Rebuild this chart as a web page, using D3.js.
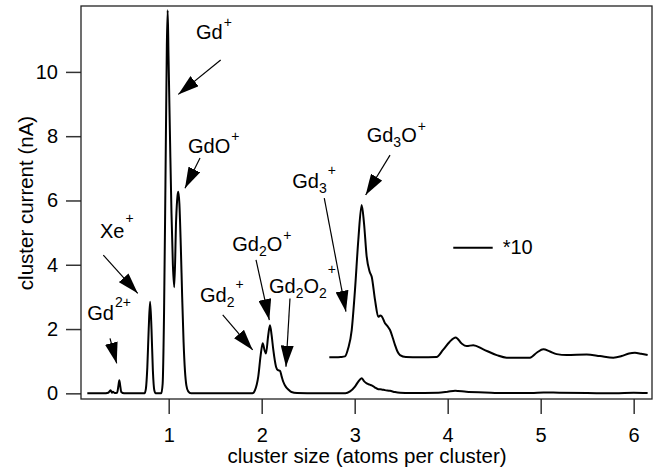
<!DOCTYPE html>
<meta charset="utf-8">
<style>
body {
  margin: 0;
  background: #fff;
}
svg {
  font-family: "Liberation Sans", Arial, Helvetica, sans-serif;
}
.trace {
  fill: none;
  stroke: #000;
  stroke-width: 2;
  stroke-linejoin: round;
}
.axis text {
  font-size: 20px;
  fill: #000;
}
.axis line {
  stroke: #333;
  stroke-width: 1.5;
}
.axis path {
  display: none;
}
.note {
  font-size: 20px;
}
.pointer {
  stroke: #000;
  stroke-width: 1.2;
}
</style>
<body>
<svg width="658" height="471"></svg>
<script src="https://d3js.org/d3.v7.min.js"></script>
<script>
// measured trace (cluster size vs current, nA)
var sizeMain = [0.125, 0.30, 0.35, 0.375, 0.39, 0.40, 0.42, 0.445, 0.46, 0.469, 0.478, 0.49, 0.52,
  0.74, 0.755, 0.77, 0.785, 0.80, 0.815, 0.83, 0.845, 0.86,
  0.92, 0.935, 0.95, 0.965, 0.98, 0.989, 0.998, 1.015, 1.03, 1.045, 1.06, 1.08, 1.095, 1.103, 1.115, 1.13, 1.145, 1.16, 1.175, 1.19, 1.21, 1.24,
  1.90, 1.928, 1.963, 1.989, 2.011, 2.03, 2.046, 2.07, 2.089, 2.107, 2.125, 2.154, 2.175, 2.197, 2.215, 2.232, 2.26, 2.286, 2.32, 2.38,
  2.6, 2.9, 2.95, 3.003, 3.039, 3.075, 3.10, 3.129, 3.161, 3.183, 3.219, 3.254, 3.29, 3.326, 3.38, 3.434, 3.487, 3.6,
  3.9, 4.0, 4.08, 4.2, 4.4, 4.6, 4.9, 5.03, 5.2, 5.5, 5.8, 6.0, 6.15];
var currentMain = [0, 0, 0.02, 0.10, 0.02, 0.05, 0.01, 0.02, 0.25, 0.41, 0.25, 0.04, 0,
  0, 0.15, 0.8, 2.0, 2.85, 2.0, 0.7, 0.1, 0,
  0, 0.3, 2.5, 6.5, 10.8, 11.92, 10.5, 7.8, 5.6, 4.0, 3.3, 5.4, 6.15, 6.27, 5.9, 4.6, 3.0, 1.6, 0.7, 0.25, 0.06, 0,
  0, 0.10, 0.52, 1.19, 1.56, 1.35, 1.24, 1.8, 2.12, 1.8, 1.35, 0.83, 0.72, 0.70, 0.52, 0.36, 0.2, 0.12, 0.04, 0.01,
  0, 0, 0.06, 0.21, 0.365, 0.47, 0.38, 0.31, 0.27, 0.25, 0.18, 0.13, 0.12, 0.10, 0.08, 0.04, 0.02, 0.01,
  0.02, 0.05, 0.08, 0.05, 0.03, 0.01, 0.01, 0.03, 0.02, 0.01, 0, 0.02, 0.01];

// same trace magnified x10 and shifted up
var sizeTimes10 = [2.727, 2.80, 2.85, 2.896, 2.93, 2.968, 3.003, 3.039, 3.075, 3.10, 3.129, 3.161, 3.183, 3.219, 3.254, 3.275, 3.29, 3.326, 3.35, 3.38, 3.41, 3.434, 3.46, 3.487, 3.55, 3.70,
  3.88, 3.95, 4.02, 4.086, 4.15, 4.204, 4.275, 4.383, 4.527, 4.634, 4.885, 4.96, 5.028, 5.10, 5.172, 5.28, 5.495, 5.638, 5.781, 5.871, 5.95, 6.014, 6.08, 6.15];
var currentTimes10 = [1.12, 1.12, 1.13, 1.15, 1.4, 1.97, 3.21, 4.77, 5.86, 5.3, 4.25, 3.78, 3.63, 2.90, 2.38, 2.42, 2.40, 2.18, 2.10, 1.97, 1.72, 1.50, 1.30, 1.19, 1.13, 1.12,
  1.13, 1.35, 1.60, 1.74, 1.55, 1.47, 1.50, 1.37, 1.19, 1.11, 1.11, 1.27, 1.37, 1.30, 1.22, 1.19, 1.21, 1.16, 1.11, 1.16, 1.24, 1.26, 1.23, 1.19];

var xTicks = [1, 2, 3, 4, 5, 6];
var yTicks = [0, 2, 4, 6, 8, 10];

// peak labels: text pieces, text anchor and arrow (all in data units)
var labels = [
  {parts: [["Gd"], ["2+", "sup", 13]], at: [0.125, 2.28], from: [0.369, 1.71], to: [0.441, 0.93]},
  {parts: [["Xe"], ["+", "sup", 15]], at: [0.261, 4.82], from: [0.297, 4.30], to: [0.667, 3.11]},
  {parts: [["Gd"], ["+", "sup", 12]], at: [1.294, 11.01], from: [1.559, 10.37], to: [1.103, 9.30]},
  {parts: [["GdO"], ["+", "sup", 12]], at: [1.208, 7.47], from: [1.337, 7.32], to: [1.175, 6.38]},
  {parts: [["Gd"], ["2", "sub"], ["+", "sup", 13]], at: [1.337, 2.85], from: [1.581, 2.44], to: [1.903, 1.35]},
  {parts: [["Gd"], ["2", "sub"], ["O"], ["+", "sup", 11]], at: [1.684, 4.44], from: [1.939, 4.15], to: [2.082, 2.28]},
  {parts: [["Gd"], ["2", "sub"], ["O"], ["2", "sub"], ["+", "sup", 19]], at: [2.078, 3.11], from: [2.304, 2.95], to: [2.261, 0.83]},
  {parts: [["Gd"], ["3", "sub"], ["+", "sup", 13]], at: [2.329, 6.38], from: [2.673, 6.07], to: [2.906, 2.54]},
  {parts: [["Gd"], ["3", "sub"], ["O"], ["+", "sup", 11]], at: [3.129, 7.83], from: [3.380, 7.41], to: [3.118, 6.17]}
];

var svg = d3.select("svg"),
    margin = {top: 6, right: 6, bottom: 72, left: 81},
    width = +svg.attr("width") - margin.left - margin.right,
    height = +svg.attr("height") - margin.top - margin.bottom;

var x = d3.scaleLinear().domain([0.057, 6.197]).range([0, width]),
    y = d3.scaleLinear().domain([-0.176, 12.05]).range([height, 0]);

svg.append("defs").append("marker")
    .attr("id", "head")
    .attr("viewBox", "0 0 21 13")
    .attr("refX", 21)
    .attr("refY", 6.5)
    .attr("markerWidth", 21)
    .attr("markerHeight", 13)
    .attr("markerUnits", "userSpaceOnUse")
    .attr("orient", "auto")
  .append("path")
    .attr("d", "M0,0L21,6.5L0,13Z")
    .attr("fill", "#000");

var g = svg.append("g")
    .attr("transform", "translate(" + margin.left + "," + margin.top + ")");

g.append("g")
    .attr("class", "axis axis--x")
    .attr("transform", "translate(0," + height + ")")
    .call(d3.axisBottom(x).tickValues(xTicks).tickFormat(d3.format("d")).tickSize(15).tickPadding(14));

g.append("g")
    .attr("class", "axis axis--y")
    .call(d3.axisLeft(y).tickValues(yTicks).tickFormat(d3.format("d")).tickSize(15).tickPadding(8));

// frame
g.append("rect")
    .attr("x", 0)
    .attr("y", 0)
    .attr("width", width)
    .attr("height", height)
    .attr("fill", "none")
    .attr("stroke", "#222")
    .attr("stroke-width", 1.3);

var line = d3.line()
    .x(function(d) { return x(d[0]); })
    .y(function(d) { return y(d[1]); })
    .curve(d3.curveMonotoneX);

g.append("path")
    .attr("class", "trace")
    .attr("d", line(d3.zip(sizeMain, currentMain)));

g.append("path")
    .attr("class", "trace")
    .attr("d", line(d3.zip(sizeTimes10, currentTimes10)));

// peak labels
labels.forEach(function(l) {
  g.append("line")
      .attr("class", "pointer")
      .attr("x1", x(l.from[0])).attr("y1", y(l.from[1]))
      .attr("x2", x(l.to[0])).attr("y2", y(l.to[1]))
      .attr("marker-end", "url(#head)");

  var t = g.append("text")
      .attr("class", "note")
      .attr("x", x(l.at[0]))
      .attr("y", y(l.at[1]));
  var shift = 0;
  l.parts.forEach(function(p) {
    var s = t.append("tspan").text(p[0]);
    var want = 0;
    if (p[1] == "sub") {
      want = 5;
      s.style("font-size", "14px");
    } else if (p[1] == "sup") {
      want = -p[2];
      s.style("font-size", "14px").attr("dx", 1);
    }
    s.attr("dy", want - shift);
    shift = want;
  });
});

// legend for the magnified trace
g.append("line")
    .attr("x1", x(4.060)).attr("x2", x(4.484))
    .attr("y1", y(4.53)).attr("y2", y(4.53))
    .attr("stroke", "#000")
    .attr("stroke-width", 2);

g.append("text")
    .attr("class", "note")
    .attr("x", x(4.591))
    .attr("y", y(4.32))
    .text("*10");

// axis titles
svg.append("text")
    .attr("transform", "rotate(-90)")
    .attr("x", -203)
    .attr("y", 33)
    .style("text-anchor", "middle")
    .style("font-size", "20.5px")
    .text("cluster current (nA)");

svg.append("text")
    .attr("x", 367)
    .attr("y", 463)
    .style("text-anchor", "middle")
    .style("font-size", "20.5px")
    .text("cluster size (atoms per cluster)");
</script>
</body>
